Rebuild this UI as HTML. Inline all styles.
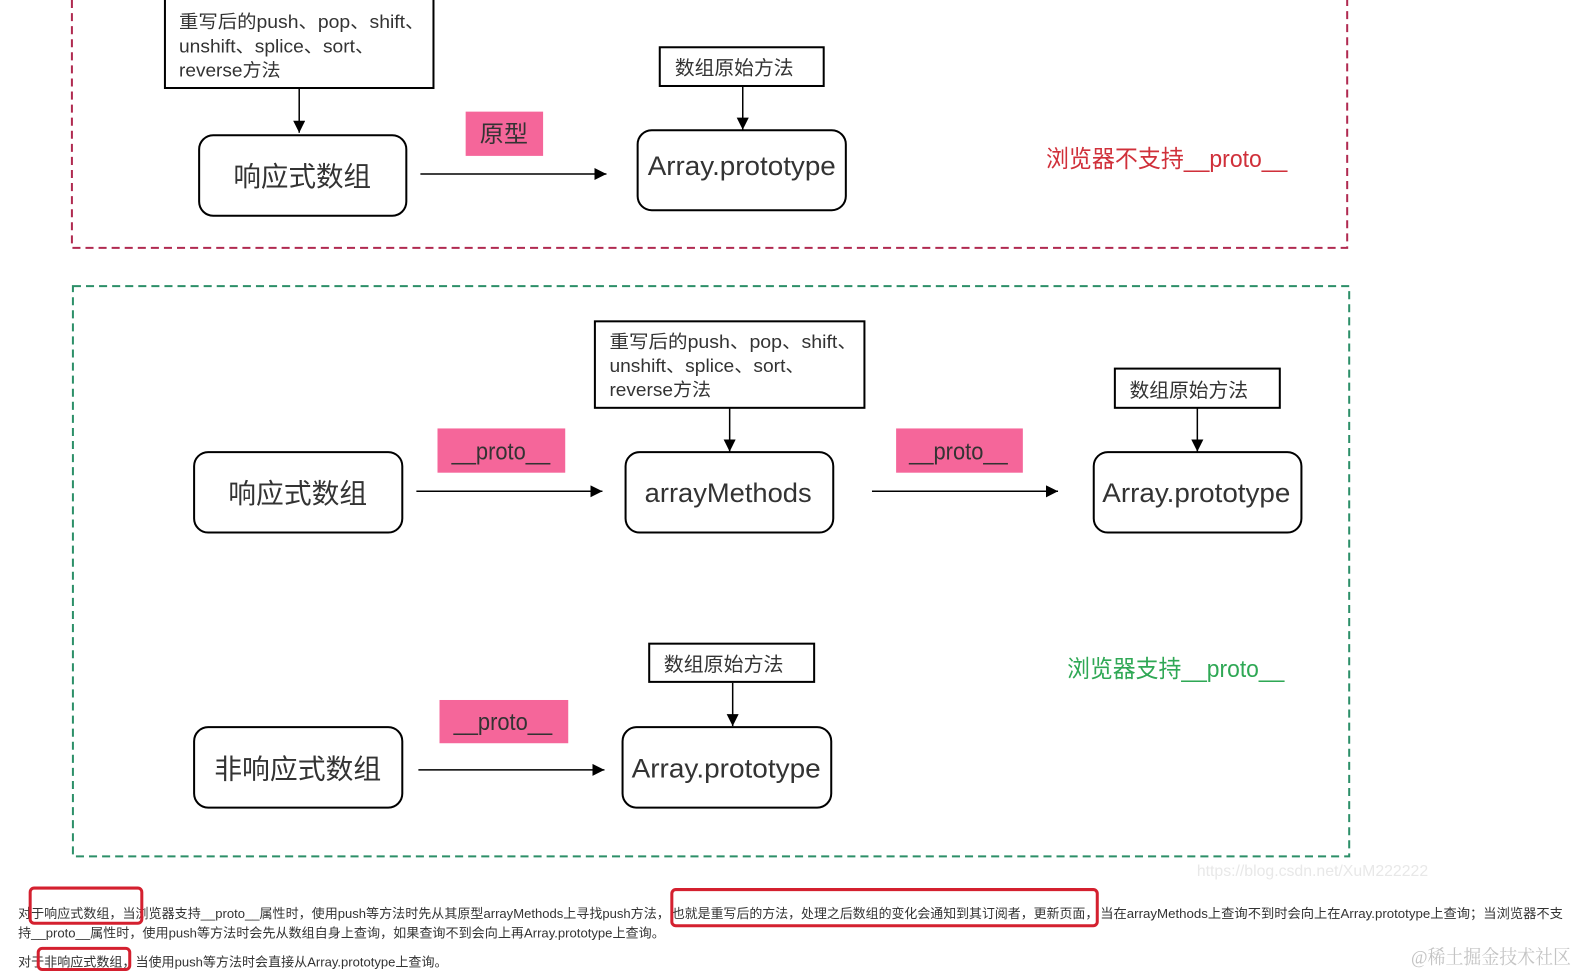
<!DOCTYPE html>
<html><head><meta charset="utf-8">
<style>
html,body{margin:0;padding:0;background:#fff;width:1577px;height:974px;overflow:hidden}
svg{display:block}
text{font-family:"Liberation Sans","Noto Sans CJK SC",sans-serif;fill:#1a1a1a}
.n{font-family:"Liberation Sans","Noto Sans CJK SC",sans-serif;font-weight:400;fill:#333}
</style></head><body>
<svg width="1577" height="974" viewBox="0 0 1568 968.45" preserveAspectRatio="none" xmlns="http://www.w3.org/2000/svg">
<defs><marker id="a" markerWidth="13" markerHeight="13" refX="12" refY="6" orient="auto" markerUnits="userSpaceOnUse"><path d="M0 0L12 6L0 12z" fill="#000"/></marker></defs>
<path d="M71.500 0V246.500H1339.500V0" fill="none" stroke="#b02a50" stroke-width="2" stroke-dasharray="8 5"/>
<rect x="72.500" y="284.500" width="1269" height="567" fill="none" stroke="#2c8f68" stroke-width="2" stroke-dasharray="8 5"/>

<g fill="#fff" stroke="#000" stroke-width="2">
<rect x="164" y="-1" width="267" height="88.500"/>
<rect x="656" y="47" width="163" height="38.500"/>
<rect x="591.500" y="319.500" width="268" height="86"/>
<rect x="1108.500" y="366.500" width="164" height="39"/>
<rect x="645.500" y="640" width="164" height="38"/>
<rect x="198" y="134.500" width="206" height="80" rx="14"/>
<rect x="634" y="129.500" width="207" height="79.500" rx="14"/>
<rect x="193" y="449.500" width="207" height="80" rx="14"/>
<rect x="622" y="449.500" width="206.500" height="80" rx="14"/>
<rect x="1087.500" y="449.500" width="206.500" height="80" rx="14"/>
<rect x="193" y="723" width="207" height="80" rx="14"/>
<rect x="619" y="723" width="207.500" height="80" rx="14"/>
</g>

<g fill="#f5669a">
<rect x="463" y="111" width="77" height="44"/>
<rect x="435" y="426" width="127" height="44"/>
<rect x="891" y="426" width="126" height="44"/>
<rect x="437" y="696" width="128" height="43"/>
</g>

<g stroke="#000" stroke-width="1.500" fill="none">
<path d="M297.500 88V132" marker-end="url(#a)"/>
<path d="M738.500 86V129" marker-end="url(#a)"/>
<path d="M418 173H603" marker-end="url(#a)"/>
<path d="M725.500 406V449" marker-end="url(#a)"/>
<path d="M1190.500 406V449" marker-end="url(#a)"/>
<path d="M414 488.500H599" marker-end="url(#a)"/>
<path d="M867 488.500H1052" marker-end="url(#a)"/>
<path d="M728.500 679V722" marker-end="url(#a)"/>
<path d="M416 765.500H601" marker-end="url(#a)"/>
</g>

<g>
<text class="n" x="178" y="28" font-size="18" textLength="244" lengthAdjust="spacingAndGlyphs">重写后的push、pop、shift、</text>
<text class="n" x="178" y="52" font-size="18" textLength="194" lengthAdjust="spacingAndGlyphs">unshift、splice、sort、</text>
<text class="n" x="178" y="76" font-size="18" textLength="101" lengthAdjust="spacingAndGlyphs">reverse方法</text>
<text class="n" x="671" y="74" font-size="19" textLength="118" lengthAdjust="spacingAndGlyphs">数组原始方法</text>
<text class="n" x="606" y="346" font-size="18" textLength="246" lengthAdjust="spacingAndGlyphs">重写后的push、pop、shift、</text>
<text class="n" x="606" y="370" font-size="18" textLength="194" lengthAdjust="spacingAndGlyphs">unshift、splice、sort、</text>
<text class="n" x="606" y="394" font-size="18" textLength="101" lengthAdjust="spacingAndGlyphs">reverse方法</text>
<text class="n" x="1123" y="395" font-size="19" textLength="118" lengthAdjust="spacingAndGlyphs">数组原始方法</text>
<text class="n" x="660" y="667" font-size="19" textLength="119" lengthAdjust="spacingAndGlyphs">数组原始方法</text>
</g>

<g>
<text class="n" x="232" y="185" font-size="27" textLength="137" lengthAdjust="spacingAndGlyphs">响应式数组</text>
<text class="n" x="644" y="174" font-size="27" textLength="187" lengthAdjust="spacingAndGlyphs">Array.prototype</text>
<text class="n" x="227" y="500" font-size="27" textLength="138" lengthAdjust="spacingAndGlyphs">响应式数组</text>
<text class="n" x="641" y="499" font-size="27" textLength="166" lengthAdjust="spacingAndGlyphs">arrayMethods</text>
<text class="n" x="1096" y="499" font-size="27" textLength="187" lengthAdjust="spacingAndGlyphs">Array.prototype</text>
<text class="n" x="213" y="774" font-size="27" textLength="166" lengthAdjust="spacingAndGlyphs">非响应式数组</text>
<text class="n" x="628" y="773" font-size="27" textLength="188" lengthAdjust="spacingAndGlyphs">Array.prototype</text>
</g>

<text class="n" x="477" y="141" font-size="23" textLength="48" lengthAdjust="spacingAndGlyphs">原型</text>
<text class="n" x="449" y="457" font-size="24" textLength="98" lengthAdjust="spacingAndGlyphs">__proto__</text>
<text class="n" x="904" y="457" font-size="24" textLength="98" lengthAdjust="spacingAndGlyphs">__proto__</text>
<text class="n" x="451" y="726" font-size="24" textLength="98" lengthAdjust="spacingAndGlyphs">__proto__</text>

<text class="n" x="1040" y="166" font-size="24" style="fill:#d0303a" textLength="240" lengthAdjust="spacingAndGlyphs">浏览器不支持__proto__</text>
<text class="n" x="1061" y="673" font-size="24" style="fill:#2fa855" textLength="216" lengthAdjust="spacingAndGlyphs">浏览器支持__proto__</text>

<g>
<text x="18" y="913" font-size="13" style="fill:#333" textLength="648" lengthAdjust="spacingAndGlyphs">对于响应式数组，当浏览器支持__proto__属性时，使用push等方法时先从其原型arrayMethods上寻找push方法，</text>
<text x="668" y="913" font-size="13" style="fill:#333" textLength="424" lengthAdjust="spacingAndGlyphs">也就是重写后的方法，处理之后数组的变化会通知到其订阅者，更新页面，</text>
<text x="1094" y="913" font-size="13" style="fill:#333" textLength="460" lengthAdjust="spacingAndGlyphs">当在arrayMethods上查询不到时会向上在Array.prototype上查询；当浏览器不支</text>
<text x="18" y="932" font-size="13" style="fill:#333" textLength="643" lengthAdjust="spacingAndGlyphs">持__proto__属性时，使用push等方法时会先从数组自身上查询，如果查询不到会向上再Array.prototype上查询。</text>
<text x="18" y="961" font-size="13" style="fill:#333" textLength="427" lengthAdjust="spacingAndGlyphs">对于非响应式数组，当使用push等方法时会直接从Array.prototype上查询。</text>
</g>

<g fill="none" stroke="#d4202f" stroke-width="3">
<rect x="30" y="883" width="111" height="35" rx="4"/>
<rect x="668" y="884.500" width="423" height="36" rx="4"/>
<rect x="38" y="943" width="91" height="21" rx="4"/>
</g>

<text x="1190" y="871" font-size="16" style="fill:#e8e8e8" textLength="230" lengthAdjust="spacingAndGlyphs">https://blog.csdn.net/XuM222222</text>
<text x="1403" y="958" font-size="19" style="font-family:'Liberation Serif','Noto Serif CJK SC',serif;fill:#c4c4c4" textLength="159" lengthAdjust="spacingAndGlyphs">@稀土掘金技术社区</text>
</svg>
</body></html>
